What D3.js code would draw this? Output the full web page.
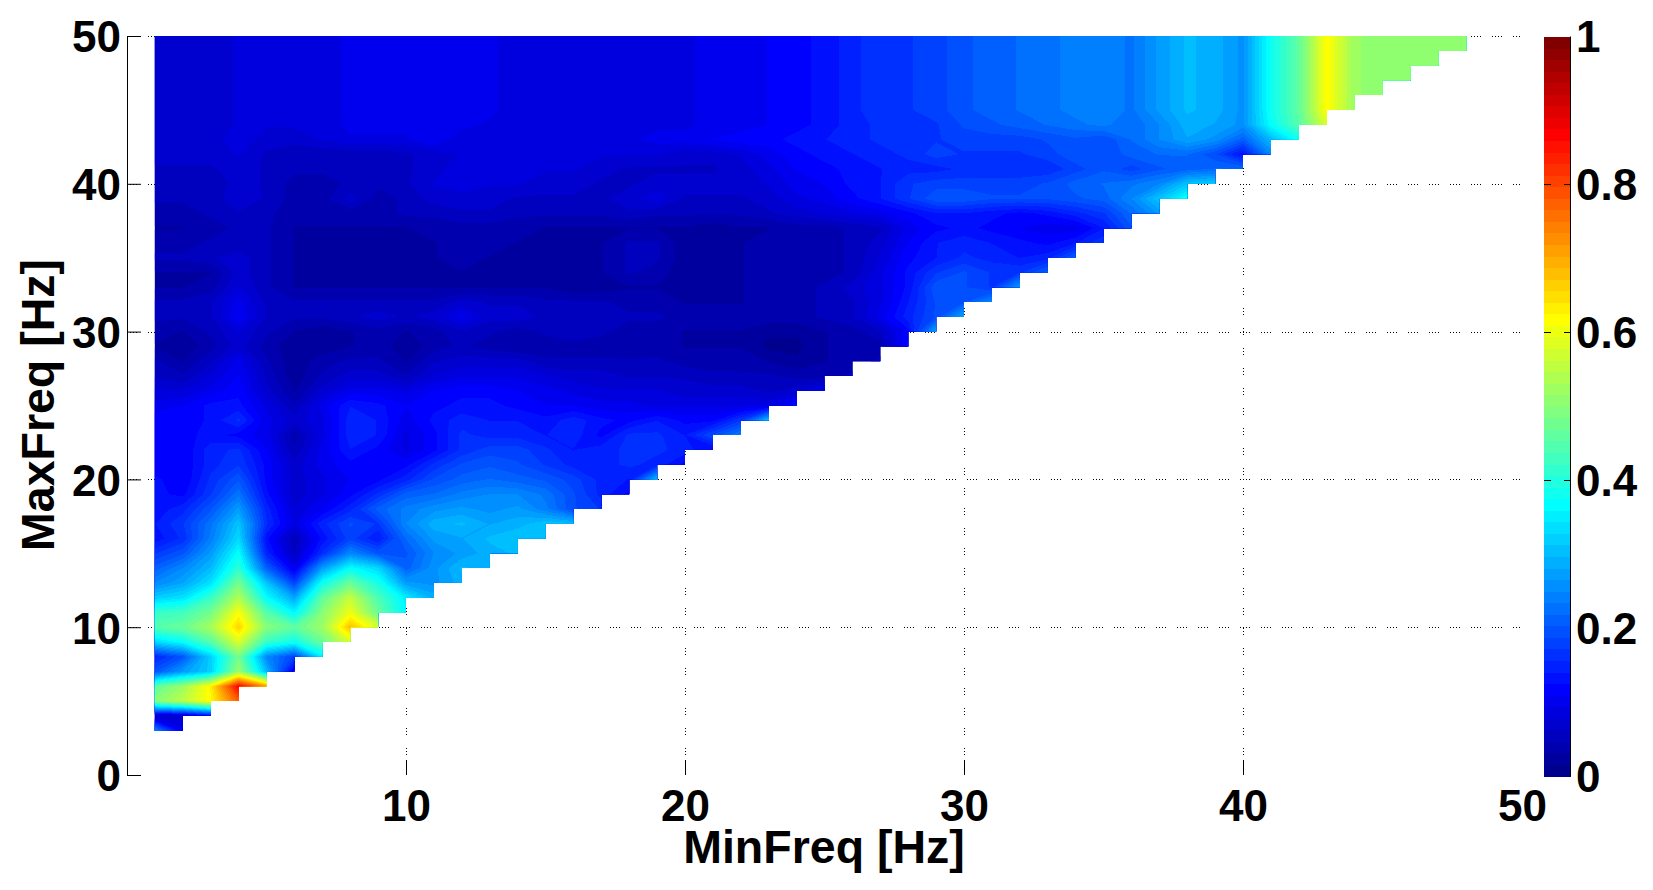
<!DOCTYPE html>
<html>
<head>
<meta charset="utf-8">
<script src="https://cdnjs.cloudflare.com/ajax/libs/d3/7.8.5/d3.min.js"></script>
<style>
  body { margin: 0; background: #fff; }
  text { font-family: "Liberation Sans", Arial, sans-serif; font-weight: bold; fill: #000; }
</style>
</head>
<body>
<div id="chart"></div>
<script>
const xTicks = [10, 20, 30, 40, 50];
const yTicks = [0, 10, 20, 30, 40, 50];
const gridX = [10, 20, 30, 40];
const gridY = [10, 20, 30, 40, 50];
const colorbarTicks = [0, 0.2, 0.4, 0.6, 0.8, 1];
const colorbarLabels = ['0', '0.2', '0.4', '0.6', '0.8', '1'];
const colorbarMarks = [0.4, 0.6, 0.8];
const minFreq = d3.range(1, 50);
const maxFreq = d3.range(3, 51);

// value in hundredths, MinFreq 1, 2, ... on each row. top rows hardly change
const plateau = [7,7,7,8,8,8,8,10,10,10,10,10,10,8,8,8,8,8,9,9,10,10,11,12,13,15,17,17,18,20,21,22,23,24,25,23,27,30,29,26,38,46,62,52,50,50,50,50,50];
const surface = [
  [25,10],
  [6,7,12],
  [50,55,62,78],
  [46,52,63,87,72],
  [20,27,32,52,30,10],
  [15,20,32,48,25,18,35],
  [33,37,45,58,42,38,47,58],
  [45,47,53,66,50,46,52,68,58],
  [42,43,48,61,45,36,50,60,47,36],
  [32,34,42,54,37,28,46,56,44,35,29],
  [25,28,34,48,31,18,38,47,39,27,26,29],
  [21,25,30,41,21,10,27,37,33,21,26,30,29],
  [17,20,27,37,15,6,16,25,20,20,25,27,29,30],
  [13,16,24,33,13,5,13,18,14,22,27,28,30,31,31],
  [14,17,23,31,16,9,15,19,17,25,29,30,28,29,31,30],
  [13,15,20,27,15,8,11,15,21,24,26,27,26,27,24,19,17],
  [13,12,17,23,13,7,9,12,16,21,22,24,25,25,23,19,15,12],
  [13,11,16,20,12,7,9,11,12,15,19,21,22,21,20,18,15,14,30],
  [11,11,15,17,12,7,10,12,12,12,16,19,20,19,17,15,15,16,15,12],
  [11,11,15,16,11,5,10,14,12,9,12,16,18,18,16,14,15,16,16,15,12],
  [11,12,13,12,10,4,9,15,14,9,12,16,15,15,14,15,12,16,16,14,19,24],
  [12,11,13,16,10,7,9,15,14,10,13,15,14,14,13,15,13,12,14,12,12,17,31],
  [10,11,13,13,9,5,10,14,13,11,12,13,13,12,11,11,10,10,9,9,9,9,9,13],
  [8,8,10,12,7,3,7,10,10,9,11,12,12,11,10,9,8,8,8,7,7,7,6,7,10],
  [6,5,8,11,6,2,5,7,7,5,8,9,9,9,8,7,7,6,6,6,5,5,5,4,4,5],
  [5,3,6,10,5,2,4,5,5,3,6,7,7,7,5,5,5,5,5,4,4,4,3,2,3,4,5],
  [3,2,4,7,4,2,2,3,4,2,4,5,4,3,4,4,4,3,4,3,3,3,1,1,3,4,4,13],
  [4,3,5,8,5,3,2,3,4,3,4,6,5,4,5,6,5,4,4,3,3,3,2,2,3,4,6,12,28],
  [5,5,6,11,6,5,5,6,7,6,7,10,7,7,6,6,5,5,5,4,4,4,4,4,5,6,10,15,19,28],
  [5,5,6,10,6,5,5,5,5,5,5,7,6,6,5,5,5,4,4,3,3,3,4,4,5,6,9,14,19,20,25],
  [3,3,4,8,5,3,3,3,3,3,3,3,3,3,3,2,2,3,3,2,2,3,4,4,5,7,9,13,20,19,17,27],
  [3,3,3,7,5,3,3,3,3,3,3,3,3,3,3,3,3,5,4,2,2,3,4,4,4,5,9,13,17,19,17,17,21],
  [5,5,6,7,5,3,3,3,3,3,3,4,3,3,3,3,3,5,5,2,2,3,4,4,4,5,8,12,14,16,15,14,15,21],
  [4,4,5,5,5,3,3,3,3,3,3,4,4,3,3,3,3,5,5,2,2,3,4,4,4,5,7,11,14,15,14,13,12,14,17],
  [3,3,4,5,5,3,3,3,3,3,4,4,4,4,3,3,3,3,3,3,2,3,3,4,4,5,6,10,12,13,12,11,10,10,14,20],
  [4,4,5,6,5,4,4,4,4,5,5,6,6,5,5,5,5,6,5,5,5,5,6,7,8,9,10,12,14,14,13,12,13,15,17,22,27],
  [5,5,5,8,6,4,4,7,4,5,7,7,7,6,6,6,6,7,9,6,6,6,7,9,10,12,14,17,20,20,19,19,19,20,21,25,31,38],
  [5,5,5,7,6,4,4,5,5,6,8,9,8,8,7,7,6,6,7,7,7,7,8,10,11,13,14,17,18,18,18,18,19,21,22,23,25,31,32],
  [6,6,6,7,6,5,5,5,5,6,7,9,8,8,8,8,7,6,6,6,6,7,9,11,12,13,14,15,15,16,16,16,16,18,20,18,20,21,22,22],
  [7,7,7,8,6,5,5,5,5,6,7,8,8,8,8,8,8,8,8,7,7,8,10,12,13,14,15,16,18,17,17,17,18,20,19,21,22,22,19,13,25],
  [7,7,7,9,7,7,8,9,9,9,11,8,8,8,8,8,9,9,10,10,11,12,12,13,14,15,16,17,17,18,18,18,19,20,19,22,25,28,26,21,30,38],
  [7,7,7,8,8,8,8,10,10,10,10,10,9,8,8,8,8,8,9,9,10,10,11,12,13,15,16,17,17,19,20,21,22,23,24,22,25,29,28,26,37,45,58],
  plateau, plateau, plateau, plateau, plateau, plateau,
];

const w = 1653;
const h = 890;

const svg = d3.select('#chart').append('svg').attr('width', w).attr('height', h);

// SCALES ----------------------

const xScale = d3.scaleLinear().domain([0, 50]).range([127, 1522]);
const yScale = d3.scaleLinear().domain([0, 50]).range([775, 36]);
const cbScale = d3.scaleLinear().domain([0, 1]).range([776, 36.5]);

// matlab jet with 64 steps
const nLevels = 64;
const jet = d3
  .scaleLinear()
  .domain([0, 7, 23, 39, 55, 63])
  .range(['rgb(0,0,143)', 'rgb(0,0,255)', 'rgb(0,255,255)', 'rgb(255,255,0)', 'rgb(255,0,0)', 'rgb(128,0,0)']);

// GRID ------------------------

svg
  .append('g')
  .selectAll('line')
  .data(gridY)
  .join('line')
  .attr('x1', xScale(0))
  .attr('x2', xScale(50))
  .attr('y1', (d) => Math.round(yScale(d)) + 0.5)
  .attr('y2', (d) => Math.round(yScale(d)) + 0.5)
  .attr('stroke', '#000')
  .attr('stroke-dasharray', '1,2,1,2,1,2,1,11');

svg
  .append('g')
  .selectAll('line')
  .data(gridX)
  .join('line')
  .attr('x1', (d) => Math.round(xScale(d)) + 0.5)
  .attr('x2', (d) => Math.round(xScale(d)) + 0.5)
  .attr('y1', yScale(0))
  .attr('y2', yScale(50))
  .attr('stroke', '#000')
  .attr('stroke-dasharray', '1,2,1,2,1,13');

// SURFACE ---------------------

// past the diagonal there is nothing, the last value of the row only keeps contours closed
const flat = [];
surface.forEach((row) => {
  minFreq.forEach((x, i) => flat.push((i < row.length ? row[i] : row[row.length - 1]) / 100));
});

const contours = d3
  .contours()
  .size([minFreq.length, maxFreq.length])
  .thresholds(d3.range(nLevels).map((k) => k / nLevels))(flat);

// contour coordinates have grid values at cell centres
const project = d3.geoTransform({
  point(cx, cy) {
    this.stream.point(xScale(minFreq[0] + cx - 0.5), yScale(maxFreq[0] + cy - 0.5));
  },
});

// staircase outline of the measured cells
const steps = [[minFreq[0], 50]];
maxFreq
  .slice()
  .reverse()
  .forEach((y) => {
    if (y < 50) steps.push([y - 1, y + 1], [y - 1, y]);
  });
steps.push([minFreq[0], 3]);

svg
  .append('clipPath')
  .attr('id', 'stairs')
  .append('path')
  .attr('d', d3.line().x((d) => xScale(d[0])).y((d) => yScale(d[1]))(steps) + 'Z');

svg
  .append('g')
  .attr('clip-path', 'url(#stairs)')
  .style('shape-rendering', 'crispEdges')
  .selectAll('path')
  .data(contours)
  .join('path')
  .attr('d', d3.geoPath(project))
  .attr('fill', (d, i) => jet(i));

// AXES ------------------------

const tickFont = 44;

const gY = svg
  .append('g')
  .attr('transform', `translate(${xScale(0)}, 0)`)
  .call(d3.axisLeft(yScale).tickValues(yTicks).tickSizeInner(-14).tickSizeOuter(0).tickPadding(6));
gY.selectAll('text').style('font-size', tickFont + 'px').attr('dy', '0.36em');
gY.selectAll('line, path').attr('stroke', '#000');

const gX = svg
  .append('g')
  .attr('transform', `translate(0, ${yScale(0)})`)
  .call(d3.axisBottom(xScale).tickValues(xTicks).tickSizeInner(-15).tickSizeOuter(0).tickPadding(15));
gX.select('.domain').remove();
gX.selectAll('line').attr('stroke', '#000').filter((d) => d === 50).remove();
gX.selectAll('text').style('font-size', tickFont + 'px');

svg
  .append('text')
  .attr('x', 824)
  .attr('y', 863)
  .attr('text-anchor', 'middle')
  .style('font-size', '46.5px')
  .text('MinFreq [Hz]');

svg
  .append('text')
  .attr('transform', 'translate(54, 405) rotate(-90)')
  .attr('text-anchor', 'middle')
  .style('font-size', '46.5px')
  .text('MaxFreq [Hz]');

// COLORBAR --------------------

const cbLeft = 1544;
const cbRight = 1571;

svg
  .append('g')
  .style('shape-rendering', 'crispEdges')
  .selectAll('rect')
  .data(d3.range(nLevels))
  .join('rect')
  .attr('x', cbLeft)
  .attr('width', cbRight - cbLeft)
  .attr('y', (k) => cbScale((k + 1) / nLevels))
  .attr('height', (k) => cbScale(k / nLevels) - cbScale((k + 1) / nLevels) + 0.5)
  .attr('fill', (k) => jet(k));

svg
  .append('line')
  .attr('x1', cbRight - 0.5)
  .attr('x2', cbRight - 0.5)
  .attr('y1', cbScale(1))
  .attr('y2', cbScale(0))
  .attr('stroke', '#000');

[[cbLeft, cbLeft + 7], [cbRight - 7, cbRight]].forEach(([x1, x2]) => {
  svg
    .append('g')
    .selectAll('line')
    .data(colorbarMarks)
    .join('line')
    .attr('x1', x1)
    .attr('x2', x2)
    .attr('y1', (d) => Math.round(cbScale(d)) + 0.5)
    .attr('y2', (d) => Math.round(cbScale(d)) + 0.5)
    .attr('stroke', '#000');
});

svg
  .append('g')
  .selectAll('text')
  .data(colorbarTicks)
  .join('text')
  .attr('x', cbRight + 5)
  .attr('y', (d) => cbScale(d))
  .attr('dy', '0.36em')
  .style('font-size', tickFont + 'px')
  .text((d, i) => colorbarLabels[i]);
</script>
</body>
</html>
